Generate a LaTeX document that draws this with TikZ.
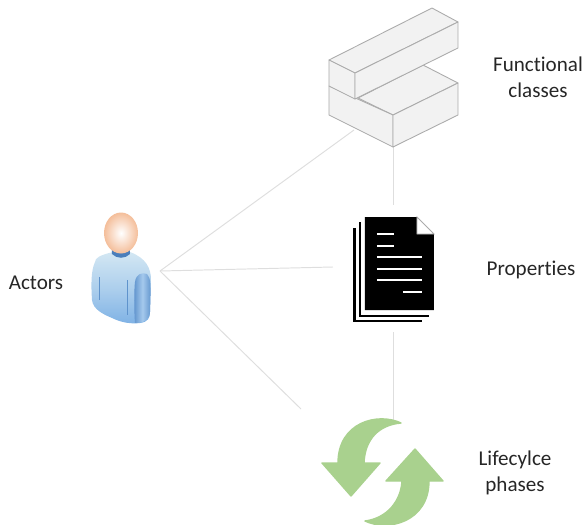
\documentclass[tikz,border=0pt]{standalone}
\usepackage{fontspec}
\setmainfont[Ligatures=NoCommon]{Carlito}
\usepackage{tikz}
\usetikzlibrary{arrows.meta,calc}

\definecolor{linkgrey}{HTML}{DEDEDE}
\definecolor{blockface}{HTML}{F2F2F2}
\definecolor{blockedge}{HTML}{ABABAB}
\definecolor{cyclegreen}{HTML}{A9D18E}
\definecolor{bodydark}{HTML}{7FB2E5}
\definecolor{bodylight}{HTML}{D3E7F3}
\definecolor{collarblue}{HTML}{4A7EBB}
\definecolor{skinpeach}{HTML}{F4BE9A}

\tikzset{
	link/.style={draw=linkgrey,line width=0.55pt},
	block/.style={draw=blockedge,fill=blockface,line width=0.5pt,line join=round},
	cycle arrow/.style={draw=cyclegreen,fill=cyclegreen,line width=0.8pt,line join=round},
	page edge/.style={draw=black,line width=1.5pt},
	page text/.style={draw=white,line width=1.1pt},
	label/.style={font=\fontsize{12}{14.7}\selectfont,align=center,text=black!85}
}

\begin{document}
\begin{tikzpicture}[x=0.02cm,y=-0.02cm]
	\useasboundingbox (0,0) rectangle (583,525);

	\coordinate (hub) at (160,271);
	\coordinate (blocksW) at (354,130);
	\coordinate (blocksS) at (393,147);
	\coordinate (docW) at (333,267);
	\coordinate (docN) at (393,205);
	\coordinate (docS) at (393,332);
	\coordinate (cycleW) at (301,409);
	\coordinate (cycleN) at (393,421);

	\draw[link] (hub) -- (blocksW);
	\draw[link] (hub) -- (docW);
	\draw[link] (hub) -- (cycleW);
	\draw[link] (blocksS) -- (docN);
	\draw[link] (docS) -- (cycleN);

	% blocks
	\draw[block] (358,98) -- (423,65) -- (458,83) -- (393,115) -- cycle;
	\draw[block] (329,86) -- (393,115) -- (393,147) -- (329,115) -- cycle;
	\draw[block] (393,115) -- (458,83) -- (458,115) -- (393,147) -- cycle;
	\draw[block] (329,60) -- (432,8) -- (458,22) -- (355,73) -- cycle;
	\draw[block] (329,60) -- (355,73) -- (355,99) -- (329,86) -- cycle;
	\draw[block] (355,73) -- (458,22) -- (458,48) -- (355,99) -- cycle;

	% document
	\draw[page edge] (354.5,228) -- (354.5,321) -- (422,321);
	\draw[page edge] (360,222) -- (360,316) -- (429,316);
	\fill[black] (365,217) -- (417,217) -- (434,234) -- (434,310) -- (365,310) -- cycle;
	\draw[fill=white,draw=blockedge,line width=0.5pt] (417,217) -- (417,234) -- (434,234) -- cycle;
	\draw[page text] (377,234) -- (394,234);
	\draw[page text] (377,246) -- (394,246);
	\draw[page text] (377,257) -- (422,257);
	\draw[page text] (377,269) -- (422,269);
	\draw[page text] (377,280) -- (422,280);
	\draw[page text] (403,292) -- (422,292);

	% arrows
	\draw[cycle arrow] (401,423) .. controls (378,412) and (338,422) .. (338,463) -- (322,463) -- (351,496) -- (380,463) -- (364,463) .. controls (365,439) and (379,425) .. (401,423) -- cycle;
	\draw[cycle arrow] (365,521) .. controls (388,532) and (429,522) .. (429,481) -- (443,481) -- (415,449) -- (386,481) -- (402,481) .. controls (401,500) and (388,518) .. (365,521) -- cycle;

	% person
	\shade[top color=bodylight,bottom color=bodydark,middle color=bodylight!55!bodydark] (113,252) .. controls (100,255) and (95,258) .. (95,262) .. controls (91,270) and (91,285) .. (92,300) .. controls (93,310) and (105,315) .. (112,318) .. controls (122,323) and (132,324) .. (140,323) .. controls (148,322) and (150,318) .. (150,312) -- (151,280) .. controls (151,268) and (146,258) .. (130,252) -- cycle;
	\shade[left color=collarblue!55!bodydark,right color=collarblue!55!bodydark,middle color=bodydark!70!white] (135,323) .. controls (134,310) and (134,290) .. (135,282) .. controls (136,274) and (142,272) .. (147,274) .. controls (151,278) and (151,285) .. (150,312) .. controls (150,320) and (143,323) .. (135,323) -- cycle;
	\draw[collarblue!60!bodydark,line width=0.5pt] (99,277) -- (99,300);
	\draw[collarblue!60!bodydark,line width=0.5pt] (127,280) -- (127,315);
	\fill[collarblue] (112,248) -- (130,248) -- (130,254) .. controls (125,259) and (117,259) .. (112,254) -- cycle;
	\shade[inner color=white,outer color=skinpeach] (121,233) ellipse (17 and 20.5);

	\node[label] (actors) at (36,283) {Actors};
	\node[label] (classes) at (538,77) {Functional\\classes};
	\node[label] (properties) at (531,270) {Properties};
	\node[label] (phases) at (515,473) {Lifecylce\\phases};
\end{tikzpicture}
\end{document}
